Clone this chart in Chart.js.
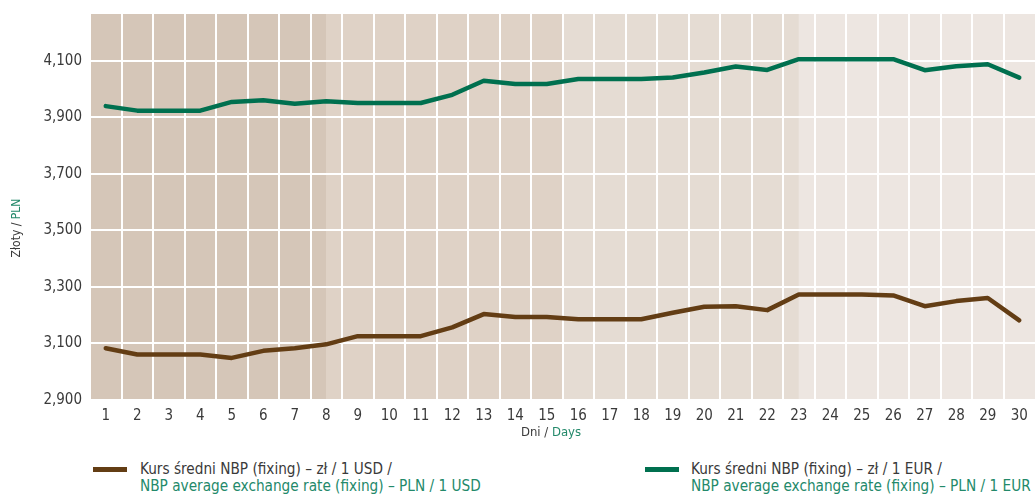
<!DOCTYPE html>
<html>
<head>
<meta charset="utf-8">
<script src="https://cdn.jsdelivr.net/npm/chart.js@4"></script>
<style>
  html, body { margin: 0; padding: 0; background: #fff; }
  #wrap { position: relative; width: 1035px; height: 497px; overflow: hidden; }
  #chart { position: absolute; left: 0; top: 0; }
  .leg { position: absolute; top: 461px; font: 15.2px 'Liberation Sans Narrow', 'DejaVu Sans Condensed', 'Open Sans', sans-serif; line-height: 17px; color: #3a3a3a; }
  .leg .sw { position: absolute; left: 0; top: 6px; width: 34px; height: 5px; }
  .leg .txt { position: absolute; white-space: nowrap; }
  .leg .en { color: #23896a; }
</style>
</head>
<body>
<div id="wrap">
  <canvas id="chart" width="1035" height="446"></canvas>
  <div class="leg" id="legUsd" style="left:93px"><div class="sw" style="background:#633d14"></div><div class="txt" style="left:47px">Kurs średni NBP (fixing) – zł / 1 USD /<br><span class="en">NBP average exchange rate (fixing) – PLN / 1 USD</span></div></div>
  <div class="leg" id="legEur" style="left:645px"><div class="sw" style="background:#00704f"></div><div class="txt" style="left:46px">Kurs średni NBP (fixing) – zł / 1 EUR /<br><span class="en">NBP average exchange rate (fixing) – PLN / 1 EUR</span></div></div>
</div>
<script>
// NBP fixing, one month: PLN per 1 USD and per 1 EUR, days 1–30.
const days = ['1','2','3','4','5','6','7','8','9','10','11','12','13','14','15',
              '16','17','18','19','20','21','22','23','24','25','26','27','28','29','30'];

const usdRate = [3.083, 3.061, 3.061, 3.061, 3.049, 3.074, 3.083, 3.097, 3.126, 3.126,
                 3.126, 3.157, 3.204, 3.194, 3.194, 3.186, 3.186, 3.186, 3.209, 3.230,
                 3.232, 3.218, 3.273, 3.273, 3.273, 3.270, 3.232, 3.250, 3.261, 3.182];

const eurRate = [3.940, 3.924, 3.924, 3.924, 3.955, 3.961, 3.948, 3.957, 3.951, 3.951,
                 3.951, 3.980, 4.030, 4.018, 4.018, 4.036, 4.036, 4.036, 4.041, 4.059,
                 4.080, 4.068, 4.106, 4.106, 4.106, 4.106, 4.067, 4.081, 4.088, 4.041];

const yTicks = [2.9, 3.1, 3.3, 3.5, 3.7, 3.9, 4.1];
const Y_MIN = 2.9, Y_MAX = 4.266;

const FONT = "'Liberation Sans Narrow', 'DejaVu Sans Condensed', 'Open Sans', sans-serif";
const GRAY = '#3a3a3a';
const GREEN_TXT = '#23896a';

// four background bands, one per quarter of the plot
const BANDS = ['#d5c6b8', '#dfd2c6', '#e5dcd3', '#ede6e1'];

const bandsPlugin = {
  id: 'bands',
  beforeDraw(chart) {
    const { ctx, chartArea: a } = chart;
    const w = (a.right - a.left) / BANDS.length;
    ctx.save();
    BANDS.forEach((c, i) => {
      ctx.fillStyle = c;
      // last band runs to the canvas edge, as in the original
      const right = i === BANDS.length - 1 ? chart.width : a.left + (i + 1) * w + 0.5;
      ctx.fillRect(a.left + i * w, a.top, right - (a.left + i * w), a.bottom - a.top);
    });
    ctx.restore();
  }
};

// axis titles with a grey Polish part and a green English part
function twoTone(ctx, parts, x, y) {
  const total = parts.reduce((s, p) => s + ctx.measureText(p[0]).width, 0);
  let cx = x - total / 2;
  parts.forEach(([t, c]) => {
    ctx.fillStyle = c;
    ctx.fillText(t, cx, y);
    cx += ctx.measureText(t).width;
  });
}

const titlesPlugin = {
  id: 'titles',
  afterDraw(chart) {
    const { ctx } = chart;
    ctx.save();
    ctx.textBaseline = 'middle';
    ctx.textAlign = 'left';
    ctx.font = '13px ' + FONT;
    twoTone(ctx, [['Dni / ', GRAY], ['Days', GREEN_TXT]], 551, 433);
    ctx.translate(17, 228);
    ctx.rotate(-Math.PI / 2);
    ctx.font = '12px ' + FONT;
    twoTone(ctx, [['Złoty / ', GRAY], ['PLN', GREEN_TXT]], 0, 0);
    ctx.restore();
  }
};

const line = (label, color, data) => ({
  label, data,
  borderColor: color,
  backgroundColor: color,
  borderWidth: 4.5,
  borderCapStyle: 'round',
  borderJoinStyle: 'round',
  pointRadius: 0,
  tension: 0,
  fill: false
});

new Chart(document.getElementById('chart'), {
  type: 'line',
  data: {
    labels: days,
    datasets: [
      line('Kurs średni NBP (fixing) – zł / 1 USD', '#633d14', usdRate),
      line('Kurs średni NBP (fixing) – zł / 1 EUR', '#00704f', eurRate)
    ]
  },
  options: {
    responsive: false,
    animation: false,
    devicePixelRatio: 1,
    layout: { padding: { top: 14, right: 0, bottom: 0, left: 0 } },
    plugins: { legend: { display: false }, tooltip: { enabled: false } },
    scales: {
      x: {
        offset: true,
        grid: {
          offset: true,
          // the closing line past the last day has no tick context: leave it out
          color: c => (c.type === 'tick' ? '#ffffff' : 'rgba(0,0,0,0)'),
          lineWidth: 2,
          drawTicks: false
        },
        border: { display: false },
        ticks: { color: GRAY, font: { family: FONT, size: 15 }, padding: 7, maxRotation: 0, autoSkip: false },
        afterFit: s => { s.height = 46; s.paddingLeft = 0; s.paddingRight = 0; }
      },
      y: {
        min: Y_MIN,
        max: Y_MAX,
        afterBuildTicks: s => { s.ticks = yTicks.map(v => ({ value: v })); },
        grid: { color: '#ffffff', lineWidth: 2, drawTicks: false },
        border: { display: false },
        ticks: {
          color: GRAY,
          font: { family: FONT, size: 15 },
          padding: 8,
          callback: v => Number(v).toFixed(3).replace('.', ',')
        },
        afterFit: s => { s.width = 90; s.paddingTop = 0; s.paddingBottom = 0; }
      }
    }
  },
  plugins: [bandsPlugin, titlesPlugin]
});
</script>
</body>
</html>
